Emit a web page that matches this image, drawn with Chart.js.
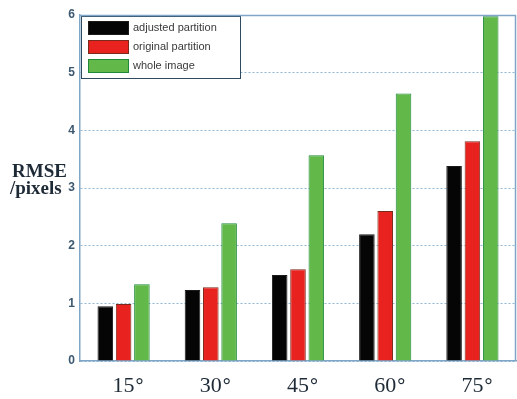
<!DOCTYPE html>
<html>
<head>
<meta charset="utf-8">
<script src="https://cdn.jsdelivr.net/npm/chart.js@4.4.0/dist/chart.umd.min.js"></script>
<style>
  html, body { margin: 0; padding: 0; background: #fff; }
  #wrap { width: 517px; height: 399px; position: relative; }
</style>
</head>
<body>
<div id="wrap"><canvas id="rmse"></canvas></div>
<script>
// angles on the x axis
const angles = ['15°', '30°', '45°', '60°', '75°'];
// RMSE values
const adjustedPartition = [0.95, 1.23, 1.49, 2.20, 3.38];
const originalPartition = [0.99, 1.28, 1.59, 2.60, 3.81];
const wholeImage = [1.33, 2.39, 3.57, 4.64, 5.98];
const yTicks = [0, 1, 2, 3, 4, 5, 6];

const axisBlue = '#7fa6c6';
const serif = '"Liberation Serif", "Times New Roman", serif';

// legend box drawn inside the plot, top-left
const innerLegend = {
    id: 'innerLegend',
    afterDraw(chart) {
        const ctx = chart.ctx;
        const area = chart.chartArea;
        const x0 = area.left + 1, y0 = area.top + 1;
        ctx.save();
        ctx.fillStyle = '#fff';
        ctx.fillRect(x0, y0, 159, 62);
        ctx.strokeStyle = '#2f4a5e';
        ctx.lineWidth = 1;
        ctx.strokeRect(x0 + 0.5, y0 + 0.5, 159, 62);
        ctx.font = '11px "Liberation Sans", Arial, sans-serif';
        ctx.textBaseline = 'middle';
        chart.data.datasets.forEach((ds, i) => {
            const y = y0 + 5 + i * 19;
            ctx.fillStyle = ds.backgroundColor;
            ctx.fillRect(x0 + 7, y, 41, 14);
            ctx.strokeStyle = ds.borderColor;
            ctx.strokeRect(x0 + 7.5, y + 0.5, 40, 13);
            ctx.fillStyle = '#3a3a3a';
            ctx.fillText(ds.label, x0 + 52, y + 7);
        });
        ctx.restore();
    }
};

// frame on top/right, horizontal y title, x labels with the digits centred
const frameAndTitle = {
    id: 'frameAndTitle',
    afterDraw(chart) {
        const ctx = chart.ctx;
        const a = chart.chartArea;
        ctx.save();
        ctx.strokeStyle = axisBlue;
        ctx.lineWidth = 1.5;
        ctx.beginPath();
        ctx.moveTo(a.left, a.top + 0.5);
        ctx.lineTo(a.right - 0.5, a.top + 0.5);
        ctx.lineTo(a.right - 0.5, a.bottom);
        ctx.stroke();

        ctx.fillStyle = '#1e2a36';
        ctx.font = 'bold 19px ' + serif;
        ctx.textBaseline = 'alphabetic';
        ctx.textAlign = 'left';
        ctx.fillText('RMSE', 12, 177);
        ctx.fillText('/pixels', 10, 194);

        const xs = chart.scales.x;
        chart.data.labels.forEach((lab, i) => {
            const cx = xs.getPixelForValue(i);
            const num = lab.replace('°', '');
            ctx.font = '22px ' + serif;
            const w = ctx.measureText(num).width;
            ctx.textAlign = 'left';
            ctx.fillText(num, cx - w / 2, 392);
            ctx.font = 'bold 20px ' + serif;
            ctx.fillText('°', cx + w / 2 + 1, 392);
        });
        ctx.restore();
    }
};

const ctx = document.getElementById('rmse').getContext('2d');
new Chart(ctx, {
    type: 'bar',
    data: {
        labels: angles,
        datasets: [
            {
                label: 'adjusted partition',
                data: adjustedPartition,
                backgroundColor: '#050505',
                borderColor: '#1a1a1a',
                borderWidth: 1
            },
            {
                label: 'original partition',
                data: originalPartition,
                backgroundColor: '#e8221f',
                borderColor: '#7a2a1a',
                borderWidth: 1
            },
            {
                label: 'whole image',
                data: wholeImage,
                backgroundColor: '#62b849',
                borderColor: '#1f8a3c',
                borderWidth: 1
            }
        ]
    },
    options: {
        responsive: true,
        maintainAspectRatio: false,
        animation: false,
        layout: { padding: { top: 15, right: 1, left: 0, bottom: 0 } },
        datasets: {
            bar: { categoryPercentage: 0.63, barPercentage: 0.85 }
        },
        plugins: {
            legend: { display: false },
            tooltip: { enabled: false }
        },
        scales: {
            x: {
                grid: { display: false },
                border: { display: true, color: axisBlue, width: 1.5 },
                ticks: { display: false },
                afterFit(scale) { scale.height = 38; }
            },
            y: {
                min: 0,
                max: 6,
                afterBuildTicks(scale) { scale.ticks = yTicks.map(v => ({ value: v })); },
                grid: { color: '#8fb6d6', drawTicks: false, lineWidth: 1 },
                border: { display: true, color: axisBlue, width: 1.5, dash: [2, 2] },
                ticks: {
                    color: '#3c5870',
                    font: { family: '"Liberation Sans", Arial, sans-serif', size: 12, weight: 'bold' },
                    padding: 5
                },
                afterFit(scale) { scale.width = 80; }
            }
        }
    },
    plugins: [innerLegend, frameAndTitle]
});
</script>
</body>
</html>
